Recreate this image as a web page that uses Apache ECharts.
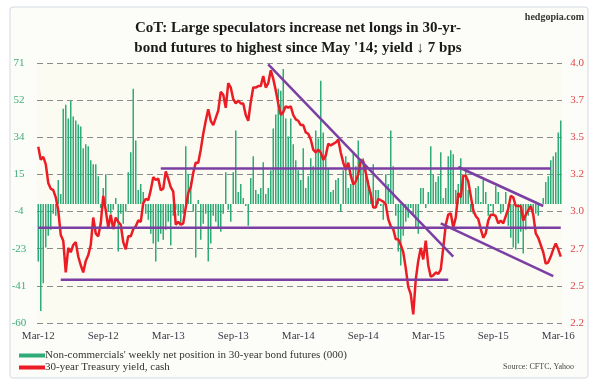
<!DOCTYPE html>
<html><head><meta charset="utf-8">
<script src="https://cdn.jsdelivr.net/npm/echarts@6/dist/echarts.min.js"></script>
<style>html,body{margin:0;padding:0;background:#fff}#c{width:596px;height:383px}</style>
</head><body><div id="c"></div>
<script>
// Weekly observations starting Tue 2012-03-06
const startDate = [2012, 2, 6];
const netPositions = [
 -29,-54,-40,-22,-16,-13,-5,-6,12,5,
 48,50,43,52,44,42,40,39,28,30,
 29,22,20,20,14,-2,8,15,-4,-5,
 -3,3,-24,-5,-10,-4,16,26,58,32,
 7,10,6,-5,-8,-15,-20,-29,-19,-15,
 -18,-13,-9,-21,-6,-3,-6,-10,-5,29,
 15,11,-4,-27,2,-18,-10,-5,-29,-20,
 -6,-9,-12,-14,-5,16,-3,-9,16,37,
 6,10,3,-1,-11,13,24,7,5,8,
 21,5,8,17,38,45,58,57,68,43,
 34,43,30,22,17,12,28,8,14,23,
 19,37,33,62,36,24,18,6,7,12,
 13,-4,17,24,8,10,26,19,32,22,
 23,19,12,6,20,7,7,-1,-8,15,
 10,37,19,-6,-24,-31,-16,-9,-7,-2,
 -6,-12,-15,8,8,-2,6,29,15,11,
 14,26,3,8,24,27,25,7,10,23,
 14,17,7,-4,-5,8,9,1,12,6,
 -6,-1,-5,9,6,-5,-4,6,-11,-17,
 -22,-23,-20,-14,-25,-13,-6,-3,-4,-5,
 -6,-1,3,11,14,22,24,26,36,42
];
const yields = [
 3.42,3.33,3.35,3.30,3.17,3.13,3.12,3.07,2.98,2.81,
 2.77,2.55,2.72,2.69,2.74,2.76,2.66,2.60,2.55,2.63,
 2.67,2.74,2.93,2.82,2.80,2.89,3.08,2.98,2.86,2.95,
 2.85,2.93,2.90,2.88,2.76,2.71,2.80,2.80,2.85,2.87,
 2.91,2.90,3.03,3.06,3.05,3.12,3.21,3.19,3.20,3.12,
 3.13,3.25,3.20,3.14,3.11,2.88,2.90,2.88,2.89,3.00,
 3.10,3.14,3.24,3.31,3.31,3.40,3.51,3.60,3.68,3.60,
 3.57,3.62,3.67,3.80,3.78,3.69,3.86,3.83,3.75,3.72,
 3.74,3.72,3.72,3.64,3.60,3.73,3.83,3.83,3.84,3.84,
 3.91,3.83,3.86,3.95,3.89,3.81,3.72,3.64,3.66,3.70,
 3.69,3.70,3.64,3.61,3.60,3.57,3.57,3.52,3.51,3.47,
 3.40,3.38,3.40,3.38,3.33,3.36,3.44,3.43,3.44,3.45,
 3.47,3.38,3.31,3.26,3.31,3.22,3.16,3.18,3.23,3.33,
 3.32,3.24,3.16,3.09,3.00,3.00,3.06,3.05,3.04,3.02,
 2.92,2.87,2.85,2.78,2.78,2.74,2.69,2.58,2.45,2.40,
 2.26,2.50,2.63,2.72,2.64,2.77,2.60,2.52,2.53,2.55,
 2.54,2.57,2.72,2.88,2.95,2.96,2.86,2.93,3.10,3.07,
 3.22,3.22,3.18,3.08,2.98,2.94,2.92,2.85,2.79,2.82,
 2.91,2.95,2.95,2.94,2.89,2.91,2.89,2.94,2.99,3.08,
 3.07,3.01,3.01,3.01,2.91,2.95,2.98,3.01,2.95,2.82,
 2.79,2.74,2.69,2.61,2.62,2.66,2.71,2.75,2.71,2.66
];
const leftTicks = ['-60','-41','-23','-4','15','34','52','71'];
const rightTicks = ['2.2','2.5','2.7','3.0','3.2','3.5','3.7','4.0'];
const leftRange = [-60, 71];
const rightRange = [2.2, 4.0];
// Trend lines drawn on the yield axis: [[weekIndex, yield], [weekIndex, yield]]
const trendLines = [
 [[0, 2.86], [209, 2.86]],
 [[9, 2.50], [164, 2.50]],
 [[49, 3.27], [205, 3.27]],
 [[92, 3.99], [166, 2.66]],
 [[168, 3.28], [202, 3.01]],
 [[161, 2.89], [206, 2.525]]
];
const barName = "Non-commercials' weekly net position in 30-year bond futures (000)";
const lineName = '30-year Treasury yield, cash';

const MONTHS = ['Jan','Feb','Mar','Apr','May','Jun','Jul','Aug','Sep','Oct','Nov','Dec'];
const t0 = Date.UTC(startDate[0], startDate[1], startDate[2]);
const categories = netPositions.map((_, i) => new Date(t0 + i * 7 * 86400000).toISOString().slice(0, 10));
const fmtDate = s => { const d = new Date(s + 'T00:00:00Z'); return MONTHS[d.getUTCMonth()] + '-' + String(d.getUTCFullYear()).slice(2); };

const serif = 'Liberation Serif';
const chart = echarts.init(document.getElementById('c'));
const series = [
 { name: barName, type: 'bar', xAxisIndex: 0, yAxisIndex: 0, data: netPositions, barWidth: 1.5,
   itemStyle: { color: '#2fab78' }, silent: true, z: 2 },
 { name: lineName, type: 'line', xAxisIndex: 0, yAxisIndex: 1, data: yields, symbol: 'none',
   lineStyle: { color: '#ec1c24', width: 2.5 }, itemStyle: { color: '#ec1c24' }, silent: true, z: 3 }
];
trendLines.forEach((seg, k) => series.push({
  name: 'trend' + k, type: 'line', xAxisIndex: 0, yAxisIndex: 1, data: seg, symbol: 'none',
  lineStyle: { color: '#7b3fa3', width: 2.5 }, silent: true, z: 4
}));

chart.setOption({
  animation: false,
  backgroundColor: '#ffffff',
  graphic: [
    { type: 'rect', shape: { x: 10, y: 7, width: 578, height: 371, r: 3 }, style: { fill: '#fcfcf8', stroke: '#d3dbe6', lineWidth: 1 }, z: -10 },
    { type: 'text', right: 12, top: 12, style: { text: 'hedgopia.com', font: 'bold 10px "Liberation Serif"', fill: '#333' } },
    { type: 'text', right: 22, top: 363, style: { text: 'Source: CFTC, Yahoo', font: '8px "Liberation Serif"', fill: '#444' } }
  ],
  title: {
    text: "CoT: Large speculators increase net longs in 30-yr-\nbond futures to highest since May '14; yield \u2193 7 bps",
    left: 'center', top: 13,
    textStyle: { fontFamily: serif, fontWeight: 'bold', fontSize: 15, lineHeight: 20, color: '#1a1a1a' }
  },
  legend: {
    data: [{ name: barName, icon: 'rect' }, { name: lineName, icon: 'rect' }],
    orient: 'vertical', left: 19, top: 350, height: 40, padding: 0,
    itemWidth: 26, itemHeight: 4, itemGap: 1,
    textStyle: { fontFamily: serif, fontSize: 11, color: '#333', padding: [0,0,0,-5] }
  },
  grid: { left: 37, right: 34, top: 63, bottom: 60, show: true, backgroundColor: '#fbfbf1', borderWidth: 0 },
  xAxis: [{
    type: 'category', data: categories, boundaryGap: true,
    axisLine: { show: false }, axisTick: { show: false },
    axisLabel: { interval: 25, formatter: fmtDate, fontFamily: serif, fontSize: 11, color: '#3c3c4a', margin: 8 },
    splitLine: { show: false }
  }],
  yAxis: [
    { type: 'value', min: leftRange[0], max: leftRange[1], show: false, splitLine: { show: false } },
    { type: 'value', min: rightRange[0], max: rightRange[1], show: false, splitLine: { show: false } },
    { type: 'category', data: leftTicks, boundaryGap: false, position: 'left',
      axisLine: { show: false }, axisTick: { show: false },
      axisLabel: { fontFamily: serif, fontSize: 11, color: '#3fae7a', align: 'center', margin: 18, interval: 0 },
      splitLine: { show: true, interval: 0, lineStyle: { color: '#8a8a8a', type: [6, 4], width: 1 } } },
    { type: 'category', data: rightTicks, boundaryGap: false, position: 'right',
      axisLine: { show: false }, axisTick: { show: false },
      axisLabel: { fontFamily: serif, fontSize: 11, color: '#e0454a', align: 'center', margin: 15, interval: 0 },
      splitLine: { show: false } }
  ],
  series
});
</script></body></html>
